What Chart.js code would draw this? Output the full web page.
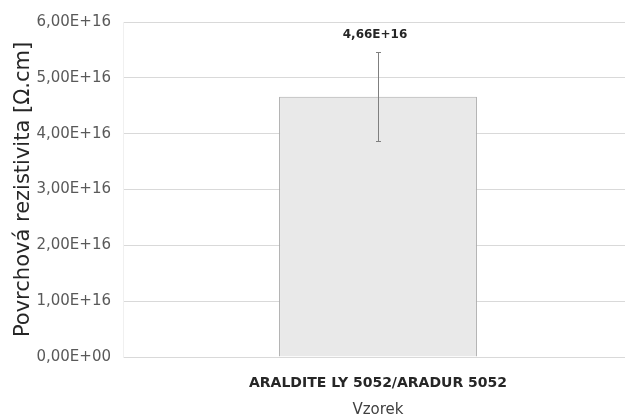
<!DOCTYPE html>
<html>
<head>
<meta charset="utf-8">
<script src="https://cdn.jsdelivr.net/npm/chart.js@4/dist/chart.umd.min.js"></script>
<style>
  html, body { margin: 0; padding: 0; background: #ffffff; overflow: hidden; }
  #wrap { width: 625px; height: 419px; overflow: hidden; }
</style>
</head>
<body>
<div id="wrap"><canvas id="c" width="633" height="419"></canvas></div>
<script>
// Sample names, measured surface resistivity and its spread
const categories = ['ARALDITE LY 5052/ARADUR 5052'];
const resistivity = [4.66e16];
const errorPlus = [0.81e16];
const errorMinus = [0.79e16];
const yTicks = [0, 1e16, 2e16, 3e16, 4e16, 5e16, 6e16];

// Excel-style scientific label with decimal comma: 4,66E+16
function sci(v) {
  const parts = Number(v).toExponential(2).split('e');
  const mant = parts[0].replace('.', ',');
  const exp = parseInt(parts[1], 10);
  const sign = exp < 0 ? '-' : '+';
  const digits = String(Math.abs(exp)).padStart(2, '0');
  return mant + 'E' + sign + digits;
}

const FONT = "'DejaVu Sans', 'Liberation Sans', sans-serif";

// Error whiskers and value labels drawn on top of the bars
const barExtras = {
  id: 'barExtras',
  afterDatasetsDraw(chart) {
    const ctx = chart.ctx;
    const y = chart.scales.y;
    const meta = chart.getDatasetMeta(0);
    meta.data.forEach((bar, i) => {
      const v = resistivity[i];
      const x = Math.round(bar.x);
      const yTop = Math.round(y.getPixelForValue(v + errorPlus[i]));
      const yBot = Math.round(y.getPixelForValue(v - errorMinus[i]));
      ctx.save();
      ctx.strokeStyle = '#7f7f7f';
      ctx.lineWidth = 1;
      ctx.beginPath();
      ctx.moveTo(x + 0.5, yTop);
      ctx.lineTo(x + 0.5, yBot);
      ctx.moveTo(x - 2, yTop + 0.5);
      ctx.lineTo(x + 3, yTop + 0.5);
      ctx.moveTo(x - 2, yBot + 0.5);
      ctx.lineTo(x + 3, yBot + 0.5);
      ctx.stroke();

      ctx.fillStyle = '#262626';
      ctx.font = 'bold 12px ' + FONT;
      ctx.textAlign = 'center';
      ctx.textBaseline = 'middle';
      ctx.fillText(sci(v), x - 3, yTop - 17);
      ctx.restore();
    });
  }
};

new Chart(document.getElementById('c'), {
  type: 'bar',
  data: {
    labels: categories,
    datasets: [{
      data: resistivity,
      backgroundColor: '#e9e9e9',
      borderColor: '#ababab',
      borderWidth: 1,
      categoryPercentage: 0.388,
      barPercentage: 1.0
    }]
  },
  options: {
    responsive: false,
    animation: false,
    devicePixelRatio: 1,
    layout: { padding: { left: 11, right: 0, top: 22, bottom: 0 } },
    plugins: {
      legend: { display: false },
      tooltip: { enabled: false }
    },
    scales: {
      x: {
        grid: { display: false },
        border: { color: '#d9d9d9' },
        ticks: {
          color: '#262626',
          font: { family: FONT, size: 14, weight: 'bold' },
          padding: 10
        },
        title: {
          display: true,
          text: 'Vzorek',
          color: '#404040',
          font: { family: FONT, size: 15 },
          padding: { top: 7, bottom: 0 }
        },
        afterFit(scale) { scale.height = 62; }
      },
      y: {
        min: 0,
        max: 6e16,
        afterBuildTicks(scale) { scale.ticks = yTicks.map(v => ({ value: v })); },
        grid: { color: '#d9d9d9', drawTicks: false },
        border: { color: '#f0f0f0' },
        ticks: {
          color: '#595959',
          font: { family: FONT, size: 15 },
          padding: 12,
          callback: v => sci(v)
        },
        title: {
          display: true,
          text: 'Povrchová rezistivita [Ω.cm]',
          color: '#262626',
          font: { family: FONT, size: 21 },
          padding: { top: 0, bottom: 2 }
        },
        afterFit(scale) { scale.width = 112; }
      }
    }
  },
  plugins: [barExtras]
});
</script>
</body>
</html>
